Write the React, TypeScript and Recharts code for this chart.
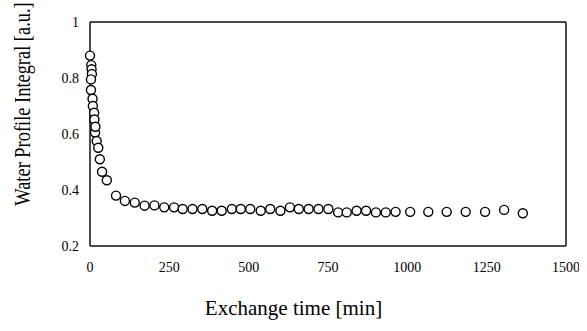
import { ScatterChart, Scatter, XAxis, YAxis, ZAxis, ReferenceLine } from "recharts";

// exchange time [min] and integral
const times = [
  0, 4, 5, 6, 3, 3, 8, 9, 13, 14, 16, 17, 21, 26, 31, 38, 53, 82, 110, 141, 172,
  203, 234, 265, 292, 323, 354, 385, 415, 447, 475, 505, 538, 568, 600, 630, 658,
  689, 720, 751, 782, 809, 840, 870, 901, 932, 963, 1009, 1066, 1124, 1184, 1245,
  1305, 1364,
];
const integral = [
  0.88, 0.846, 0.831, 0.814, 0.795, 0.757, 0.726, 0.7, 0.676, 0.652, 0.605, 0.626,
  0.575, 0.551, 0.51, 0.465, 0.435, 0.38, 0.361, 0.355, 0.344,
  0.345, 0.338, 0.338, 0.332, 0.332, 0.332, 0.326, 0.326, 0.332, 0.332, 0.332,
  0.326, 0.332, 0.326, 0.338, 0.332, 0.332, 0.332, 0.332, 0.32, 0.32, 0.326,
  0.326, 0.32, 0.32, 0.322, 0.322, 0.322, 0.322, 0.322, 0.322, 0.329, 0.317,
];
const xTicks = [0, 250, 500, 750, 1000, 1250, 1500];
const yTicks = [0.2, 0.4, 0.6, 0.8, 1];

const data = times.map((t, i) => ({ t, v: integral[i] }));

const font = '"Liberation Serif", "Times New Roman", serif';
const tickStyle = { fill: "#000", fontSize: 14, fontFamily: font };
const xEdges = [xTicks[0], xTicks[xTicks.length - 1]];
const yEdges = [yTicks[0], yTicks[yTicks.length - 1]];

export default function App() {
  return (
    <div>
      <ScatterChart width={579} height={323} margin={{ top: 14, right: 21, bottom: 0, left: 0 }}>
        <XAxis
          type="number"
          dataKey="t"
          domain={[0, 1500]}
          ticks={xTicks}
          height={85}
          tickSize={0}
          tickMargin={16}
          tickLine={false}
          axisLine={false}
          tick={tickStyle}
        />
        <YAxis
          type="number"
          dataKey="v"
          domain={[0.2, 1]}
          ticks={yTicks}
          width={82}
          tickSize={0}
          tickMargin={11}
          tickLine={false}
          axisLine={false}
          tick={tickStyle}
        />
        <ZAxis range={[55, 55]} />
        {/* plot frame */}
        {yEdges.map((v) => (
          <ReferenceLine key={"fy" + v} y={v} stroke="#111" strokeWidth={1.5} />
        ))}
        {xEdges.map((t) => (
          <ReferenceLine key={"fx" + t} x={t} stroke="#111" strokeWidth={1.5} />
        ))}
        <Scatter data={data} fill="#fff" stroke="#000" strokeWidth={1.4} isAnimationActive={false} />
      </ScatterChart>
      <div
        style={{
          position: "absolute",
          left: 0,
          width: 587,
          top: 296,
          textAlign: "center",
          fontFamily: font,
          fontSize: 21,
          lineHeight: "24px",
          color: "#000",
        }}
      >
        Exchange time [min]
      </div>
      <div
        style={{
          position: "absolute",
          left: 23,
          top: 104,
          transform: "translate(-50%, -50%) rotate(-90deg) scale(0.8, 1)",
          whiteSpace: "nowrap",
          fontFamily: font,
          fontSize: 23,
          lineHeight: "24px",
          color: "#000",
        }}
      >
        Water Profile Integral [a.u.]
      </div>
    </div>
  );
}
